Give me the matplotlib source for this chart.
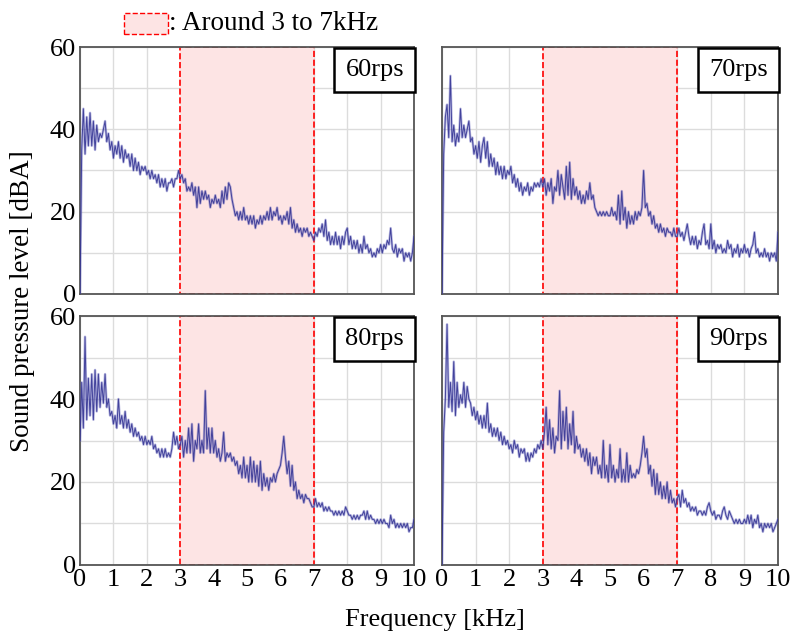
import numpy as np
import matplotlib
matplotlib.use("Agg")
import matplotlib.pyplot as plt
from matplotlib.patches import Rectangle

plt.rcParams["font.family"] = ["Liberation Serif", "DejaVu Serif"]

# frequency axis [kHz], 0.05 kHz steps
freq_khz = np.linspace(0, 10, 201)

spl_60rps = [
    0, 35, 45, 34, 43, 36, 44, 36, 42, 35, 41, 37, 39, 38, 40, 42, 37, 39, 35, 37,
    33, 36, 34, 37, 33, 36, 32, 35, 33, 34, 31, 34, 30, 33, 30, 32, 29, 31, 30, 31,
    29, 30, 28, 30, 28, 29, 27, 29, 26, 28, 26, 28, 25, 27, 27, 28, 26, 28, 28, 30,
    28, 29, 27, 28, 25, 26, 25, 27, 24, 26, 21, 26, 22, 25, 23, 25, 23, 24, 21, 23,
    22, 24, 22, 23, 21, 25, 22, 26, 23, 27, 26, 23, 21, 19, 20, 18, 20, 18, 21, 18,
    19, 17, 19, 17, 19, 16, 18, 17, 19, 17, 19, 18, 20, 18, 21, 18, 20, 19, 21, 18,
    19, 17, 19, 18, 20, 17, 21, 16, 18, 15, 17, 15, 16, 14, 16, 15, 16, 14, 15, 14,
    13, 15, 14, 16, 15, 17, 14, 18, 13, 15, 12, 14, 12, 15, 12, 14, 11, 14, 12, 15,
    16, 12, 14, 11, 13, 11, 13, 10, 12, 10, 14, 11, 12, 10, 11, 9, 10, 9, 11, 10,
    12, 10, 12, 11, 13, 12, 16, 11, 10, 12, 9, 11, 10, 11, 8, 10, 9, 10, 8, 10,
    14,
]

spl_70rps = [
    0, 34, 43, 46, 38, 53, 37, 41, 36, 39, 37, 45, 38, 41, 38, 40, 42, 37, 38, 34,
    36, 33, 37, 32, 36, 38, 33, 37, 31, 34, 31, 33, 29, 32, 29, 31, 28, 31, 28, 30,
    29, 31, 27, 29, 26, 28, 25, 27, 24, 26, 25, 27, 24, 26, 25, 27, 26, 27, 26, 28,
    26, 28, 24, 27, 25, 28, 22, 26, 25, 30, 24, 29, 26, 23, 31, 24, 32, 23, 28, 24,
    26, 23, 25, 22, 24, 22, 25, 23, 27, 23, 24, 21, 20, 19, 20, 19, 20, 19, 20, 19,
    19, 21, 19, 20, 18, 24, 17, 25, 18, 21, 16, 20, 17, 19, 17, 20, 18, 20, 19, 21,
    30, 21, 22, 19, 20, 17, 19, 16, 17, 15, 17, 15, 16, 14, 16, 15, 15, 14, 16, 14,
    14, 16, 14, 15, 13, 15, 17, 14, 12, 14, 12, 14, 11, 13, 12, 15, 17, 12, 13, 11,
    17, 11, 13, 10, 12, 11, 12, 10, 11, 10, 13, 11, 12, 9, 11, 10, 12, 9, 11, 10,
    12, 10, 11, 9, 11, 12, 15, 10, 11, 9, 10, 9, 11, 9, 10, 8, 10, 9, 10, 8,
    15,
]

spl_80rps = [
    30, 44, 33, 55, 35, 45, 36, 46, 35, 47, 37, 46, 38, 44, 39, 46, 38, 40, 36, 37,
    34, 36, 33, 40, 34, 36, 33, 37, 33, 35, 32, 34, 31, 33, 31, 32, 30, 31, 29, 31,
    29, 30, 29, 31, 28, 29, 27, 28, 26, 28, 26, 28, 26, 27, 26, 28, 32, 29, 31, 28,
    29, 31, 26, 30, 27, 33, 27, 34, 25, 30, 28, 34, 27, 30, 27, 42, 28, 33, 27, 33,
    27, 30, 26, 28, 25, 27, 32, 25, 27, 26, 27, 25, 26, 24, 25, 22, 24, 21, 26, 21,
    24, 20, 26, 20, 25, 20, 24, 19, 25, 18, 22, 19, 21, 18, 21, 20, 22, 20, 22, 23,
    24, 27, 31, 26, 22, 25, 19, 24, 18, 20, 16, 18, 16, 17, 15, 17, 16, 16, 15, 14,
    14, 16, 14, 15, 14, 15, 13, 14, 13, 14, 13, 13, 12, 13, 12, 13, 12, 13, 12, 14,
    13, 12, 12, 11, 12, 11, 12, 11, 12, 12, 13, 11, 13, 11, 12, 11, 11, 10, 11, 10,
    11, 10, 11, 10, 10, 9, 12, 10, 11, 9, 10, 9, 10, 9, 10, 9, 10, 8, 9, 9,
    11,
]

spl_90rps = [
    0, 32, 40, 58, 38, 44, 37, 49, 36, 44, 38, 41, 39, 44, 38, 43, 40, 39, 36, 38,
    35, 37, 34, 36, 33, 36, 33, 39, 32, 34, 31, 33, 31, 33, 30, 32, 29, 31, 29, 30,
    28, 29, 27, 30, 28, 29, 26, 28, 27, 28, 25, 27, 25, 27, 26, 28, 27, 29, 28, 30,
    28, 32, 38, 29, 35, 28, 33, 27, 31, 30, 42, 28, 37, 30, 38, 28, 34, 29, 37, 27,
    31, 28, 29, 26, 28, 25, 28, 24, 27, 22, 26, 24, 26, 22, 24, 21, 30, 21, 24, 20,
    29, 21, 24, 20, 23, 21, 28, 20, 23, 20, 27, 20, 24, 21, 22, 21, 23, 22, 24, 27,
    31, 26, 28, 22, 24, 19, 23, 17, 22, 17, 20, 16, 19, 16, 20, 15, 18, 15, 16, 14,
    16, 17, 14, 18, 15, 16, 14, 15, 13, 14, 13, 14, 12, 13, 13, 12, 13, 12, 14, 15,
    13, 12, 13, 11, 12, 12, 11, 13, 14, 12, 11, 13, 12, 11, 10, 11, 10, 11, 10, 10,
    11, 10, 12, 10, 12, 9, 11, 10, 12, 9, 10, 8, 10, 9, 10, 9, 10, 8, 9, 10,
    11,
]

panel_labels = ["60rps", "70rps", "80rps", "90rps"]
panel_data = [spl_60rps, spl_70rps, spl_80rps, spl_90rps]
band_khz = (3, 7)

fig = plt.figure(figsize=(7.9, 6.31), dpi=100, facecolor="white")

# axes rectangles in figure fraction: TL, TR, BL, BR
rects = [
    [0.1013, 0.5341, 0.4228, 0.3914],
    [0.5595, 0.5341, 0.4253, 0.3914],
    [0.1013, 0.1046, 0.4228, 0.3946],
    [0.5595, 0.1046, 0.4253, 0.3946],
]

for i, (rect, label, spl) in enumerate(zip(rects, panel_labels, panel_data)):
    ax = fig.add_axes(rect)
    ax.set_xlim(0, 10)
    ax.set_ylim(0, 60)
    ax.set_xticks(range(0, 11))
    ax.set_yticks([0, 20, 40, 60])
    ax.set_yticks(range(0, 61, 10), minor=True)
    ax.grid(True, which="both", color="#dcdcdc", linewidth=1.0)
    ax.set_axisbelow(True)
    ax.tick_params(which="both", length=0, labelsize=19, pad=3)
    if i < 2:
        ax.tick_params(labelbottom=False)
    if i % 2 == 1:
        ax.tick_params(labelleft=False)
    for sp in ax.spines.values():
        sp.set_color("#555555")
        sp.set_linewidth(1.3)

    ax.axvspan(band_khz[0], band_khz[1], facecolor="#fde4e4", edgecolor="red",
               linestyle="--", linewidth=1.2, zorder=1)

    ax.plot(freq_khz, spl, color="#6262bc", linewidth=1.8, alpha=0.45, zorder=3)
    ax.plot(freq_khz, spl, color="#2e2e90", linewidth=0.7, alpha=0.85, zorder=4)

    ax.text(0.97, 0.952, label, transform=ax.transAxes, ha="right", va="top",
            fontsize=19, zorder=6,
            bbox=dict(boxstyle="square,pad=0.42", facecolor="white",
                      edgecolor="black", linewidth=1.8))

fig.text(0.028, 0.522, "Sound pressure level [dBA]", rotation=90,
         ha="center", va="center", fontsize=19.5)
fig.text(0.55, 0.018, "Frequency [kHz]", ha="center", va="center", fontsize=19)

# legend for the shaded band
fig.patches.append(Rectangle((0.157, 0.946), 0.0557, 0.0333, transform=fig.transFigure,
                             facecolor="#fde4e4", edgecolor="red", linestyle="--",
                             linewidth=1.0))
fig.text(0.214, 0.9635, ": Around 3 to 7kHz", ha="left", va="center", fontsize=19.5)

fig.savefig("out.png", dpi=100, facecolor="white")
